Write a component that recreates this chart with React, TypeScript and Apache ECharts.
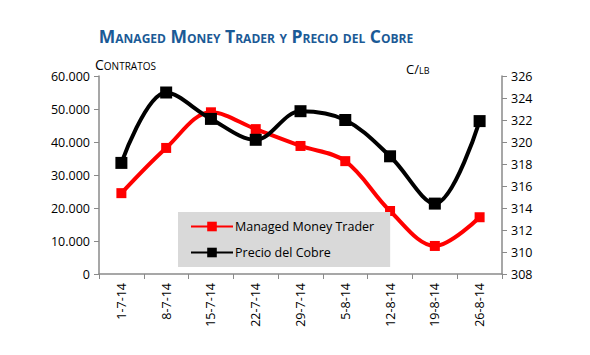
import React, { useEffect, useRef } from "react";
import * as echarts from "echarts";

const categories = ["1-7-14", "8-7-14", "15-7-14", "22-7-14", "29-7-14", "5-8-14", "12-8-14", "19-8-14", "26-8-14"];
const managedMoney = [24500, 38200, 49000, 43900, 38800, 34200, 19100, 8500, 17200];
const precioCobre = [318.1, 324.5, 322.1, 320.2, 322.8, 322.0, 318.7, 314.4, 321.9];
const titleText = "Managed Money Trader y Precio del Cobre";
const leftUnit = "Contratos";
const rightUnit = "C/lb";

const FONT = '"Open Sans", sans-serif';
const AXIS_COLOR = "#8a8a8a";

function fmtThousands(v: number): string {
  return String(Math.round(v)).replace(/\B(?=(\d{3})+(?!\d))/g, ".");
}

export default function App() {
  const ref = useRef<HTMLDivElement>(null);
  useEffect(() => {
    if (!ref.current) return;
    const chart = echarts.init(ref.current, null, { renderer: "svg" });
    const axisLabel = { color: "#000", fontFamily: FONT, fontSize: 12.5 };
    chart.setOption({
      animation: false,
      backgroundColor: "#ffffff",
      grid: { left: 99, right: 88, top: 76, bottom: 81, containLabel: false },
      graphic: [
        {
          type: "text",
          x: 256,
          y: 36,
          style: {
            text: titleText,
            font: 'small-caps bold 17.5px "Open Sans", sans-serif',
            fill: "#1b5a96",
            textAlign: "center",
            textVerticalAlign: "middle",
          },
        },
        {
          type: "text",
          x: 95,
          y: 64,
          style: {
            text: leftUnit,
            font: 'small-caps 14px "Open Sans", sans-serif',
            fill: "#000",
            textAlign: "left",
            textVerticalAlign: "middle",
          },
        },
        {
          type: "text",
          x: 406,
          y: 69,
          style: {
            text: rightUnit,
            font: 'small-caps 13px "Open Sans", sans-serif',
            fill: "#000",
            textAlign: "left",
            textVerticalAlign: "middle",
          },
        },
      ],
      legend: {
        orient: "vertical",
        left: 178,
        top: 212,
        backgroundColor: "#d9d9d9",
        padding: [8, 16, 8, 12],
        itemWidth: 42,
        itemHeight: 12,
        itemGap: 13,
        textStyle: { color: "#000", fontFamily: FONT, fontSize: 12.5, padding: [0, 0, 0, -3] },
        data: ["Managed Money Trader", "Precio del Cobre"],
      },
      xAxis: {
        type: "category",
        data: categories,
        boundaryGap: true,
        axisLine: { lineStyle: { color: AXIS_COLOR, width: 1.5 } },
        axisTick: { show: true, length: 5, lineStyle: { color: AXIS_COLOR } },
        axisLabel: { ...axisLabel, rotate: 90, margin: 9 },
        splitLine: { show: false },
      },
      yAxis: [
        {
          type: "value",
          min: 0,
          max: 60000,
          interval: 10000,
          axisLine: { show: true, lineStyle: { color: AXIS_COLOR, width: 1.5 } },
          axisTick: { show: true, length: 5, lineStyle: { color: AXIS_COLOR } },
          axisLabel: { ...axisLabel, margin: 9, formatter: (v: number) => fmtThousands(v) },
          splitLine: { show: false },
        },
        {
          type: "value",
          min: 308,
          max: 326,
          interval: 2,
          position: "right",
          axisLine: { show: true, lineStyle: { color: AXIS_COLOR, width: 1.5 } },
          axisTick: { show: true, length: 5, lineStyle: { color: AXIS_COLOR } },
          axisLabel: { ...axisLabel, margin: 9 },
          splitLine: { show: false },
        },
      ],
      series: [
        {
          name: "Managed Money Trader",
          type: "line",
          yAxisIndex: 0,
          data: managedMoney,
          smooth: 0.35,
          symbol: "rect",
          symbolSize: 10,
          lineStyle: { color: "#ff0000", width: 4 },
          itemStyle: { color: "#ff0000" },
          z: 2,
        },
        {
          name: "Precio del Cobre",
          type: "line",
          yAxisIndex: 1,
          data: precioCobre,
          smooth: 0.35,
          symbol: "rect",
          symbolSize: 12,
          lineStyle: { color: "#000000", width: 4 },
          itemStyle: { color: "#000000" },
          z: 3,
        },
      ],
    });
    return () => chart.dispose();
  }, []);
  return (
    <div
      ref={ref}
      style={{ position: "fixed", left: 0, top: 0, width: 590, height: 355 }}
    />
  );
}
